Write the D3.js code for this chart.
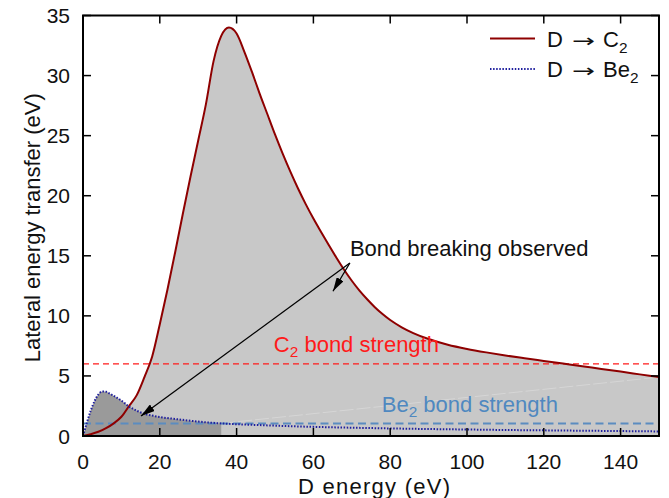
<!DOCTYPE html>
<html>
<head>
<meta charset="utf-8">
<script src="https://cdn.jsdelivr.net/npm/d3@7"></script>
<style>
  html, body { margin: 0; padding: 0; background: #ffffff; }
  svg { display: block; font-family: "Liberation Sans", Arial, Helvetica, sans-serif; }
</style>
</head>
<body>
<svg id="chart" width="669" height="498"></svg>
<script>
// ---------------- data ----------------
const c2Energy = [0, 2, 4, 6, 8, 10, 12, 14, 16, 18, 20, 22, 24, 26, 28, 30, 32, 34, 36, 38, 40, 42, 44, 46, 48, 50, 52, 54, 56, 58, 60, 62, 64, 66, 68, 70, 72, 74, 76, 78, 80, 83, 86, 90, 95, 100, 105, 110, 115, 120, 125, 130, 135, 140, 145, 150];
const c2Transfer = [0, 0.15, 0.35, 0.65, 1.05, 1.6, 2.5, 3.4, 4.9, 6.6, 9.3, 12.2, 15.3, 18.5, 21.6, 24.6, 27.6, 31.2, 33.3, 34.0, 33.5, 32.0, 30.3, 28.5, 26.8, 25.1, 23.5, 22.0, 20.6, 19.3, 18.1, 16.98, 15.89, 14.84, 13.84, 12.92, 12.1, 11.38, 10.72, 10.15, 9.65, 9.05, 8.57, 8.07, 7.6, 7.25, 6.96, 6.7, 6.47, 6.25, 6.03, 5.81, 5.58, 5.36, 5.13, 4.9];

const be2Energy = [0, 1, 2, 3, 4, 5, 6, 7, 8, 10, 12, 14, 16, 18, 20, 25, 30, 35, 40, 45, 50, 60, 70, 80, 90, 100, 110, 120, 130, 140, 150];
const be2Transfer = [0, 1.1, 2.1, 2.9, 3.45, 3.7, 3.68, 3.52, 3.35, 2.95, 2.45, 2.1, 1.85, 1.7, 1.58, 1.38, 1.2, 1.07, 0.98, 0.92, 0.86, 0.76, 0.69, 0.63, 0.58, 0.54, 0.5, 0.47, 0.44, 0.41, 0.38];

const bondStrengths = [6.0, 1.05];           // C2, Be2 (eV)
const be2ShadeEnd = 36;                        // eV, end of darker Be2 shading
const xTicks = [0, 20, 40, 60, 80, 100, 120, 140];
const yTicks = [0, 5, 10, 15, 20, 25, 30, 35];
const xDomain = [0, 150];
const yDomain = [0, 35];

// annotation (data units)
const annotText = "Bond breaking observed";
const annotTextPos = [69.5, 15.0];
const arrowStart = [69.5, 14.4];
const arrowEnds = [[65.1, 12.05], [15.1, 1.67]];

// ---------------- layout ----------------
const svg = d3.select("#chart");
const W = 669, H = 498;
const m = { left: 83, right: 10, top: 15.5, bottom: 62 };
const x = d3.scaleLinear().domain(xDomain).range([m.left, W - m.right]);
const y = d3.scaleLinear().domain(yDomain).range([H - m.bottom, m.top]);
const FS = 22;

const c2 = c2Energy.map((e, i) => ({ e, v: c2Transfer[i] }));
const be2 = be2Energy.map((e, i) => ({ e, v: be2Transfer[i] }));

const defs = svg.append("defs");
defs.append("clipPath").attr("id", "plotclip")
  .append("rect").attr("x", x(0)).attr("y", y(35)).attr("width", x(150) - x(0)).attr("height", y(0) - y(35));
defs.append("clipPath").attr("id", "beclip")
  .append("rect").attr("x", x(0)).attr("y", y(35)).attr("width", x(be2ShadeEnd) - x(0)).attr("height", y(0) - y(35));
defs.append("marker").attr("id", "ah")
  .attr("viewBox", "0 0 14 8").attr("refX", 14).attr("refY", 4)
  .attr("markerWidth", 14).attr("markerHeight", 8)
  .attr("markerUnits", "userSpaceOnUse").attr("orient", "auto")
  .append("path").attr("d", "M0,0 L14,4 L0,8 Z").attr("fill", "#000");

const curve = d3.curveMonotoneX;
const plot = svg.append("g").attr("clip-path", "url(#plotclip)");

// fills
plot.append("path").datum(c2)
  .attr("d", d3.area().x(d => x(d.e)).y0(y(0)).y1(d => y(d.v)).curve(curve))
  .attr("fill", "#c8c8c8");
plot.append("path").datum(be2)
  .attr("clip-path", "url(#beclip)")
  .attr("d", d3.area().x(d => x(d.e)).y0(y(0)).y1(d => y(d.v)).curve(curve))
  .attr("fill", "#9a9a9a");
// faint rendering seam
plot.append("line")
  .attr("x1", x(be2ShadeEnd)).attr("y1", y(1.05))
  .attr("x2", x(150)).attr("y2", y(c2Transfer[c2Transfer.length - 1]))
  .attr("stroke", "#d6d6d6").attr("stroke-width", 1).attr("stroke-dasharray", "14,3");

// bond strength lines
plot.append("line").attr("x1", x(0)).attr("x2", x(150))
  .attr("y1", y(bondStrengths[0])).attr("y2", y(bondStrengths[0]))
  .attr("stroke", "#ff1a1a").attr("stroke-width", 1.3).attr("stroke-dasharray", "6,4");
plot.append("line").attr("x1", x(0)).attr("x2", x(150))
  .attr("y1", y(bondStrengths[1])).attr("y2", y(bondStrengths[1]))
  .attr("stroke", "#5b8cc0").attr("stroke-width", 2).attr("stroke-dasharray", "8,4.5");

// curves
plot.append("path").datum(c2)
  .attr("d", d3.line().x(d => x(d.e)).y(d => y(d.v)).curve(curve))
  .attr("fill", "none").attr("stroke", "#8e0000").attr("stroke-width", 2);
plot.append("path").datum(be2)
  .attr("d", d3.line().x(d => x(d.e)).y(d => y(d.v)).curve(curve))
  .attr("fill", "none").attr("stroke", "#1f1f9e").attr("stroke-width", 2).attr("stroke-dasharray", "1.5,1.6");

// frame + ticks (mirrored on all sides, inward)
const tickLen = 8;
const tk = svg.append("g").attr("stroke", "#000").attr("stroke-width", 1.5);
xTicks.forEach(t => {
  tk.append("line").attr("x1", x(t)).attr("x2", x(t)).attr("y1", y(0)).attr("y2", y(0) - tickLen);
  tk.append("line").attr("x1", x(t)).attr("x2", x(t)).attr("y1", y(35)).attr("y2", y(35) + tickLen);
});
yTicks.forEach(t => {
  tk.append("line").attr("y1", y(t)).attr("y2", y(t)).attr("x1", x(0)).attr("x2", x(0) + tickLen);
  tk.append("line").attr("y1", y(t)).attr("y2", y(t)).attr("x1", x(150)).attr("x2", x(150) - tickLen);
});
svg.append("rect").attr("x", x(0)).attr("y", y(35)).attr("width", x(150) - x(0)).attr("height", y(0) - y(35))
  .attr("fill", "none").attr("stroke", "#000").attr("stroke-width", 2);

// tick labels
const TFS = 21;
svg.append("g").selectAll("text").data(xTicks).join("text")
  .attr("x", d => x(d)).attr("y", 469).attr("text-anchor", "middle")
  .attr("font-size", TFS).attr("fill", "#111").text(d => d);
svg.append("g").selectAll("text").data(yTicks).join("text")
  .attr("x", 70).attr("y", d => y(d) + 7.5).attr("text-anchor", "end")
  .attr("font-size", TFS).attr("fill", "#111").text(d => d);

// axis titles
svg.append("text").attr("x", (x(0) + x(150)) / 2 + 3).attr("y", 493.5).attr("text-anchor", "middle")
  .attr("font-size", FS).attr("textLength", 152).attr("lengthAdjust", "spacing")
  .attr("fill", "#111").text("D energy (eV)");
svg.append("text").attr("transform", `translate(40,${(y(0) + y(35)) / 2 + 2}) rotate(-90)`)
  .attr("text-anchor", "middle").attr("font-size", FS).attr("fill", "#111")
  .text("Lateral energy transfer (eV)");

// bond strength labels
const c2lab = svg.append("text").attr("x", x(49.7)).attr("y", y(7.0)).attr("font-size", FS).attr("fill", "#ff1a1a");
c2lab.append("tspan").text("C");
c2lab.append("tspan").attr("font-size", FS * 0.7).attr("dy", 5).text("2");
c2lab.append("tspan").attr("dy", -5).text(" bond strength");

const belab = svg.append("text").attr("x", x(77.8)).attr("y", y(2.0)).attr("font-size", FS).attr("fill", "#4f88c0");
belab.append("tspan").text("Be");
belab.append("tspan").attr("font-size", FS * 0.7).attr("dy", 5).text("2");
belab.append("tspan").attr("dy", -5).text(" bond strength");

// annotation
svg.append("text").attr("x", x(annotTextPos[0])).attr("y", y(annotTextPos[1]))
  .attr("font-size", FS).attr("fill", "#111").text(annotText);
arrowEnds.forEach(e => {
  svg.append("line")
    .attr("x1", x(arrowStart[0])).attr("y1", y(arrowStart[1]))
    .attr("x2", x(e[0])).attr("y2", y(e[1]))
    .attr("stroke", "#000").attr("stroke-width", 1.3).attr("marker-end", "url(#ah)");
});

// legend
const legend = [
  { name: "C", color: "#8e0000", dash: null, ly: 38.5 },
  { name: "Be", color: "#1f1f9e", dash: "1.5,1.6", ly: 69 }
];
legend.forEach(l => {
  svg.append("line").attr("x1", 490).attr("x2", 535).attr("y1", l.ly).attr("y2", l.ly)
    .attr("stroke", l.color).attr("stroke-width", 2).attr("stroke-dasharray", l.dash);
  const t = svg.append("text").attr("y", l.ly + 8).attr("font-size", FS).attr("fill", "#111");
  t.append("tspan").attr("x", 547).text("D");
  t.append("tspan").attr("x", 572).attr("textLength", 23).attr("lengthAdjust", "spacingAndGlyphs")
    .attr("font-family", "DejaVu Sans").attr("font-size", 18).text("\u2192");
  t.append("tspan").attr("x", 603).text(l.name);
  t.append("tspan").attr("font-size", FS * 0.7).attr("dy", 6).text("2");
});
</script>
</body>
</html>
